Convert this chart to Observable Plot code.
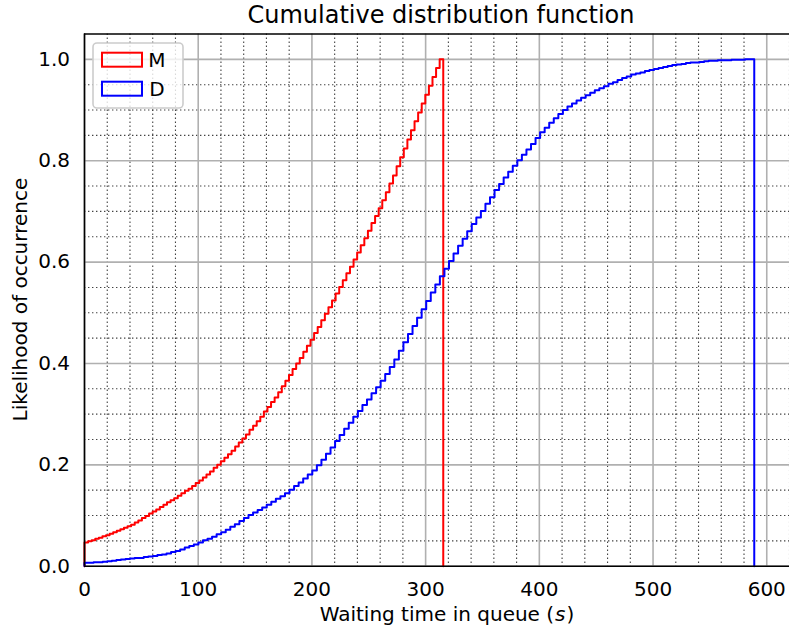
<!DOCTYPE html>
<html><head><meta charset="utf-8">
<script src="https://cdn.jsdelivr.net/npm/d3@7"></script>
<script src="https://cdn.jsdelivr.net/npm/@observablehq/plot@0.6"></script>
<style>body{margin:0;background:#fff;} svg{font-family:"DejaVu Sans";}</style>
</head><body><div id="chart"></div>
<script>
const title = "Cumulative distribution function";
const xLabelText = "Waiting time in queue (";
const xLabelItalic = "s";
const yLabelText = "Likelihood of occurrence";
const seriesNames = ["M", "D"];
const seriesColors = ["#ff0000", "#0000ff"];
const xTicks = [0, 100, 200, 300, 400, 500, 600];
const yTicks = [0, 0.2, 0.4, 0.6, 0.8, 1.0];
const xDomain = [0, 620];
const yDomain = [0, 1.05];

// Right edge of the last bin (where each step histogram drops to 0)
const mMaxWait = 315.5;
const dMaxWait = 589;

// Cumulative fraction per bin (equal-width bins from 0 to the max wait)
const mCdf = [
0.047,0.049,0.051,0.054,0.056,0.059,0.061,0.064,0.067,0.070,
0.073,0.076,0.079,0.082,0.086,0.090,0.095,0.099,0.104,0.108,
0.112,0.117,0.121,0.126,0.130,0.134,0.139,0.144,0.149,0.153,
0.158,0.164,0.169,0.175,0.181,0.187,0.194,0.200,0.207,0.214,
0.221,0.228,0.236,0.244,0.252,0.260,0.269,0.277,0.286,0.295,
0.305,0.314,0.324,0.333,0.343,0.355,0.366,0.377,0.389,0.400,
0.411,0.423,0.435,0.447,0.460,0.472,0.485,0.498,0.511,0.524,
0.538,0.551,0.564,0.578,0.591,0.605,0.619,0.633,0.647,0.662,
0.677,0.691,0.706,0.722,0.738,0.755,0.771,0.789,0.807,0.824,
0.842,0.860,0.878,0.895,0.913,0.930,0.948,0.965,0.983,1.000
];
const dCdf = [
0.007,0.007,0.008,0.008,0.009,0.010,0.011,0.012,0.013,0.014,
0.015,0.016,0.016,0.018,0.019,0.020,0.022,0.023,0.025,0.028,
0.030,0.033,0.037,0.040,0.043,0.047,0.051,0.054,0.058,0.063,
0.067,0.072,0.078,0.083,0.089,0.095,0.101,0.106,0.111,0.116,
0.121,0.127,0.133,0.138,0.144,0.151,0.158,0.165,0.173,0.181,
0.189,0.199,0.210,0.222,0.234,0.247,0.259,0.271,0.283,0.295,
0.306,0.318,0.329,0.341,0.353,0.366,0.379,0.393,0.408,0.425,
0.442,0.458,0.474,0.490,0.507,0.523,0.540,0.556,0.572,0.587,
0.602,0.617,0.632,0.646,0.661,0.675,0.688,0.701,0.715,0.728,
0.742,0.754,0.767,0.778,0.790,0.801,0.812,0.822,0.833,0.845,
0.856,0.865,0.875,0.884,0.892,0.900,0.907,0.913,0.919,0.924,
0.929,0.934,0.939,0.943,0.947,0.952,0.955,0.959,0.963,0.966,
0.970,0.972,0.974,0.977,0.979,0.981,0.983,0.985,0.987,0.989,
0.990,0.991,0.993,0.994,0.994,0.995,0.996,0.997,0.997,0.998,
0.998,0.998,0.999,0.999,0.999,1.000,1.000
];

function stepPoints(cdf, maxWait, name) {
  const w = maxWait / cdf.length;
  const pts = [{t: 0, p: 0, s: name}];
  cdf.forEach((v, i) => pts.push({t: i * w, p: v, s: name}));
  pts.push({t: maxWait, p: 0, s: name});
  return pts;
}
const mPts = stepPoints(mCdf, mMaxWait, seriesNames[0]);
const dPts = stepPoints(dCdf, dMaxWait, seriesNames[1]);

const minorX = d3.range(0, 621, 20).filter(v => v % 100 !== 0);
const minorY = d3.range(1, 21).map(i => i * 0.05).filter((v, i) => (i + 1) % 4 !== 0);

const W = 789, H = 632;
const mL = 84, mR = 0, mT = 33.5, mB = 66.3;

const plot = Plot.plot({
  width: W, height: H,
  marginLeft: mL, marginRight: mR, marginTop: mT, marginBottom: mB,
  style: {fontFamily: "DejaVu Sans", fontSize: "20px", background: "white", color: "black", overflow: "visible"},
  x: {domain: xDomain},
  y: {domain: yDomain},
  marks: [
    Plot.ruleX(minorX, {stroke: "#222", strokeWidth: 1.1, strokeDasharray: "1.4,2.6", strokeOpacity: 0.85}),
    Plot.ruleY(minorY, {stroke: "#222", strokeWidth: 1.1, strokeDasharray: "1.4,2.6", strokeOpacity: 0.85}),
    Plot.ruleX(xTicks, {stroke: "#b0b0b0", strokeWidth: 1.6}),
    Plot.ruleY(yTicks, {stroke: "#b0b0b0", strokeWidth: 1.6}),
    Plot.line(mPts, {x: "t", y: "p", curve: "step-after", stroke: seriesColors[0], strokeWidth: 2}),
    Plot.line(dPts, {x: "t", y: "p", curve: "step-after", stroke: seriesColors[1], strokeWidth: 2}),
    Plot.ruleX([xDomain[0]], {stroke: "#000", strokeWidth: 1.6}),
    Plot.ruleY([yDomain[0], yDomain[1]], {stroke: "#000", strokeWidth: 1.6}),
    Plot.axisX({ticks: xTicks, tickSize: 0, tickPadding: 16, label: null, tickFormat: d => String(d)}),
    Plot.axisY({ticks: yTicks, tickSize: 0, tickPadding: 14.5, label: null, tickFormat: d3.format(".1f")})
  ]
});

const svg = d3.select(plot);
const cy = mT + (H - mT - mB) / 2;
svg.append("text").attr("x", 441).attr("y", 22.5).attr("text-anchor", "middle")
  .attr("font-size", 24).attr("fill", "black").text(title);
const xl = svg.append("text").attr("x", 447).attr("y", 621).attr("text-anchor", "middle")
  .attr("font-size", 20).attr("fill", "black");
xl.append("tspan").text(xLabelText);
xl.append("tspan").attr("font-style", "italic").attr("dx", 1).text(xLabelItalic);
xl.append("tspan").attr("dx", 1).text(")");
svg.append("text").attr("transform", `translate(27,${cy}) rotate(-90)`).attr("text-anchor", "middle")
  .attr("font-size", 20).attr("fill", "black").text(yLabelText);

// legend
const lg = svg.append("g");
lg.append("rect").attr("x", 93).attr("y", 43).attr("width", 90).attr("height", 65).attr("rx", 4)
  .attr("fill", "white").attr("fill-opacity", 0.8).attr("stroke", "#cccccc").attr("stroke-width", 1.6);
seriesNames.forEach((name, i) => {
  const y0 = 52.7 + i * 29;
  lg.append("rect").attr("x", 102).attr("y", y0).attr("width", 40).attr("height", 14)
    .attr("fill", "none").attr("stroke", seriesColors[i]).attr("stroke-width", 2);
  lg.append("text").attr("x", 157).attr("y", y0 + 14.5).attr("font-size", 20).attr("fill", "black").text(name);
});

document.getElementById("chart").appendChild(plot);
</script>
</body></html>
